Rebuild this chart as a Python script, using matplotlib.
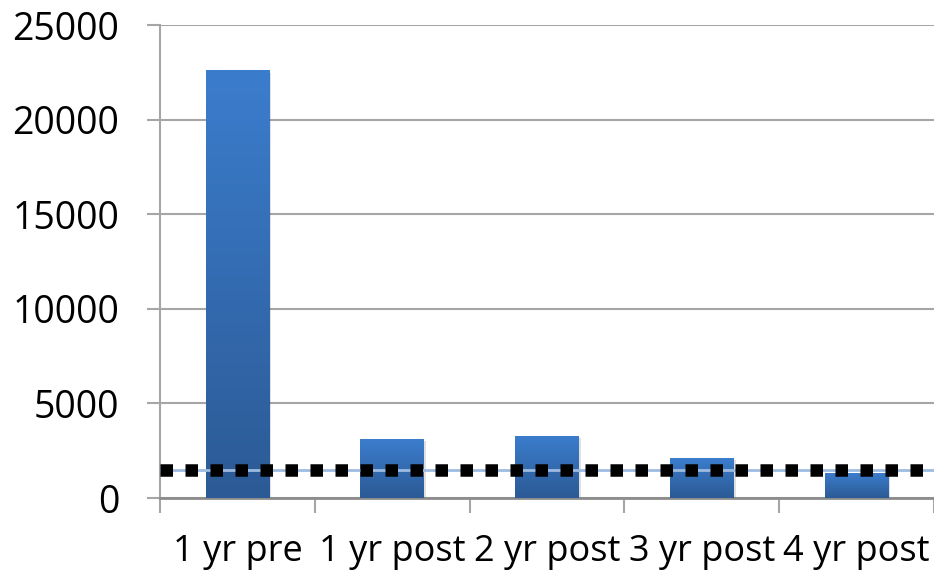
import numpy as np
import matplotlib
matplotlib.use("Agg")
import matplotlib.pyplot as plt
from matplotlib.colors import LinearSegmentedColormap
from matplotlib.patches import Rectangle
import matplotlib.patheffects as pe

categories = ["1 yr pre", "1 yr post", "2 yr post", "3 yr post", "4 yr post"]
counts = [22600, 3100, 3300, 2100, 1300]
baseline = 1500
y_ticks = [0, 5000, 10000, 15000, 20000, 25000]

plt.rcParams["font.family"] = ["Open Sans", "DejaVu Sans"]

fig = plt.figure(figsize=(9.34, 5.74), dpi=100)
ax = fig.add_axes([0.1713, 0.1324, 0.8287, 0.824])

grid_col = "#a6a6a6"
bar_w = 0.41
x = np.arange(len(categories))

# vertical gradient for each bar, light at top, dark at bottom
cmap = LinearSegmentedColormap.from_list("barfill", ["#2c5a95", "#3b7dcd"])
grad = np.linspace(0, 1, 256).reshape(-1, 1)
for xi, v in zip(x, counts):
    rect = Rectangle((xi - bar_w / 2, 0), bar_w, v, facecolor="#3470b8",
                     edgecolor="none", zorder=2,
                     path_effects=[pe.SimplePatchShadow(offset=(1.5, -1.5),
                                                        alpha=0.12, shadow_rgbFace="k"),
                                   pe.Normal()])
    ax.add_patch(rect)
    im = ax.imshow(grad, cmap=cmap, origin="lower", aspect="auto",
                   extent=(xi - bar_w / 2, xi + bar_w / 2, 0, v), zorder=3)
    im.set_clip_path(rect)

# reference level
ax.axhline(baseline, color="#9dbbe0", lw=2, zorder=4)
ax.axhline(baseline, color="black", lw=9, linestyle=(0, (1, 1)),
           dash_capstyle="butt", zorder=5)

ax.set_xlim(-0.5, len(categories) - 0.5)
ax.set_ylim(0, 25000)
ax.set_yticks(y_ticks)
ax.set_yticklabels([str(t) for t in y_ticks])
ax.yaxis.grid(True, color=grid_col, lw=1.5, zorder=0)
ax.set_axisbelow(True)

ax.set_xticks(x)
ax.set_xticklabels(categories)
ax.set_xticks(np.arange(-0.5, len(categories)), minor=True)
ax.tick_params(axis="x", which="major", length=0, pad=26, labelsize=26)
ax.tick_params(axis="x", which="minor", length=11, width=1.5, color=grid_col)
ax.tick_params(axis="y", length=9.5, width=1.5, color=grid_col, pad=20,
               labelsize=27)

for s in ["top", "right"]:
    ax.spines[s].set_visible(False)
ax.spines["left"].set_color(grid_col)
ax.spines["left"].set_linewidth(1.5)
ax.spines["bottom"].set_color("#8c8c8c")
ax.spines["bottom"].set_linewidth(2)

fig.savefig("out.png", dpi=100)
